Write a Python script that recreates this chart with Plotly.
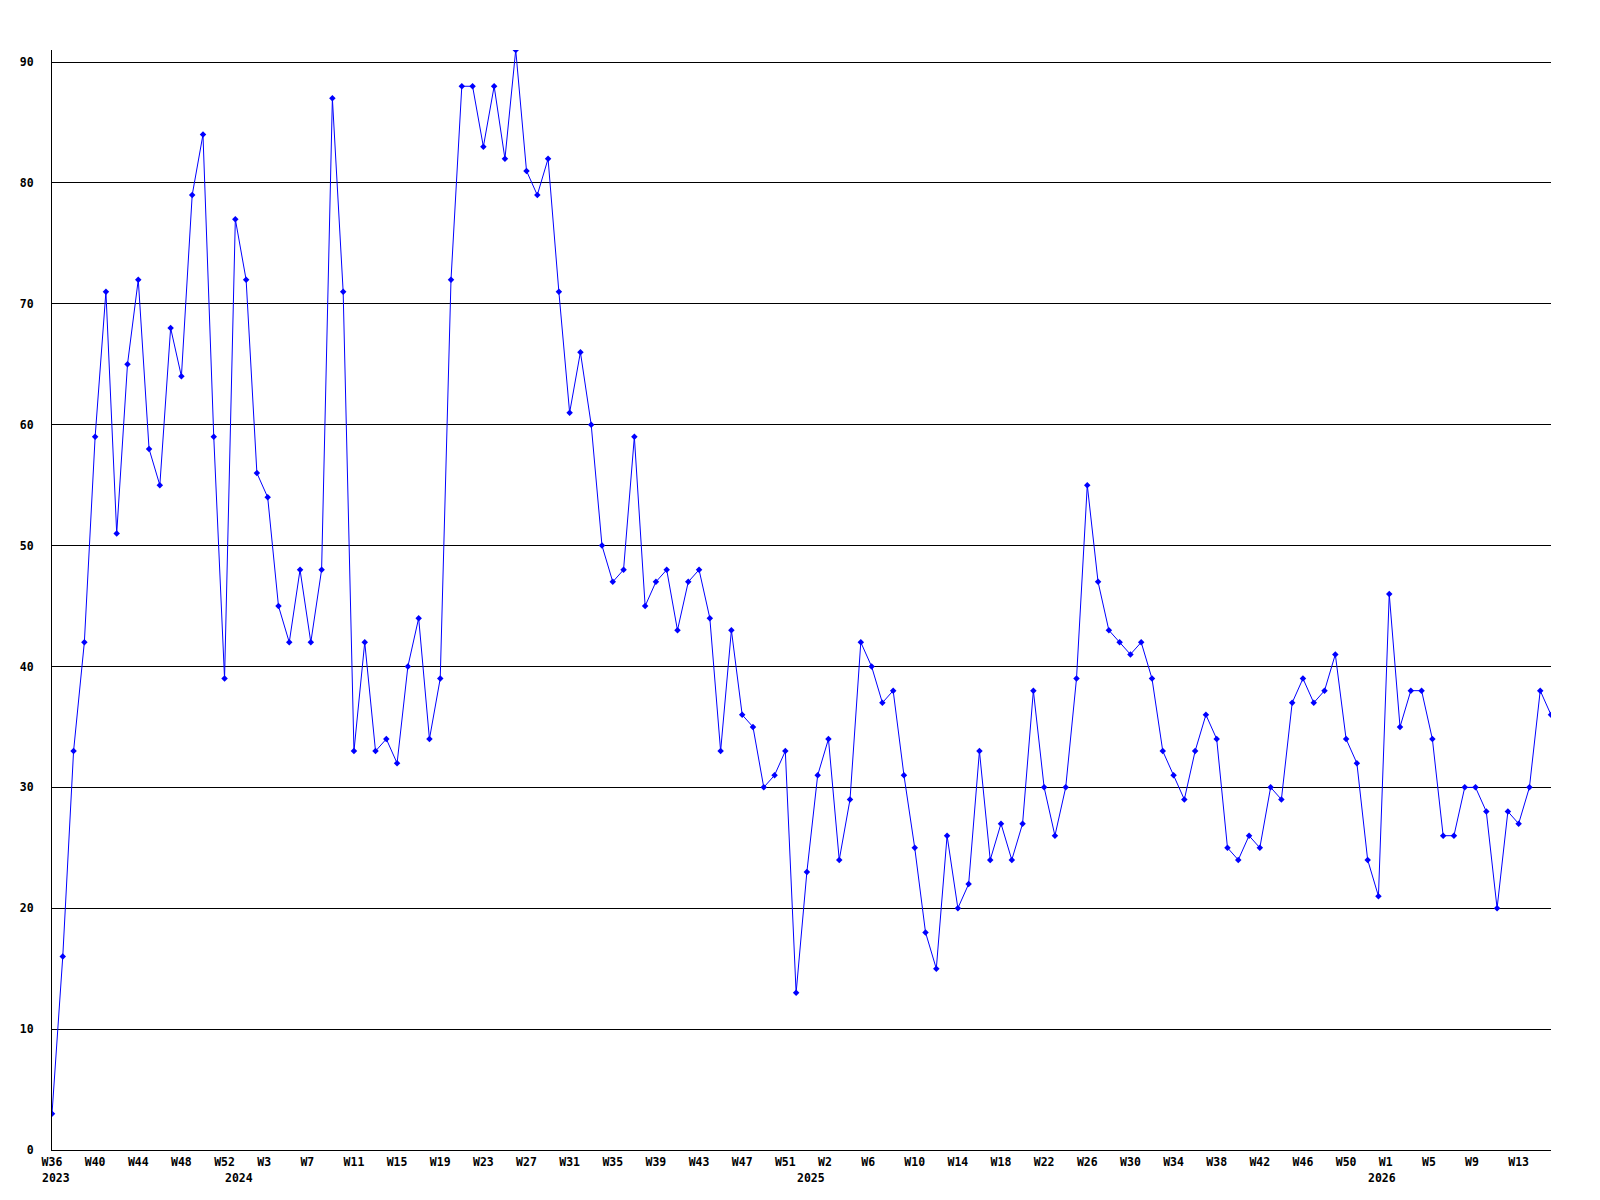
import plotly.graph_objects as go

# Weekly values, first point = W36 2023
values = [3, 16, 33, 42, 59, 71, 51, 65, 72, 58,
          55, 68, 64, 79, 84, 59, 39, 77, 72, 56,
          54, 45, 42, 48, 42, 48, 87, 71, 33, 42,
          33, 34, 32, 40, 44, 34, 39, 72, 88, 88,
          83, 88, 82, 91, 81, 79, 82, 71, 61, 66,
          60, 50, 47, 48, 59, 45, 47, 48, 43, 47,
          48, 44, 33, 43, 36, 35, 30, 31, 33, 13,
          23, 31, 34, 24, 29, 42, 40, 37, 38, 31,
          25, 18, 15, 26, 20, 22, 33, 24, 27, 24,
          27, 38, 30, 26, 30, 39, 55, 47, 43, 42,
          41, 42, 39, 33, 31, 29, 33, 36, 34, 25,
          24, 26, 25, 30, 29, 37, 39, 37, 38, 41,
          34, 32, 24, 21, 46, 35, 38, 38, 34, 26,
          26, 30, 30, 28, 20, 28, 27, 30, 38, 36]

week_tick_labels = ["W36", "W40", "W44", "W48", "W52", "W3", "W7", "W11", "W15",
                    "W19", "W23", "W27", "W31", "W35", "W39", "W43", "W47", "W51",
                    "W2", "W6", "W10", "W14", "W18", "W22", "W26", "W30", "W34",
                    "W38", "W42", "W46", "W50", "W1", "W5", "W9", "W13"]
week_tick_step = 4

year_labels = ["2023", "2024", "2025", "2026"]
year_positions = [0, 17, 70, 123]

y_ticks = [0, 10, 20, 30, 40, 50, 60, 70, 80, 90]

x = list(range(len(values)))
NB = "\u00a0"
FONT = dict(family="DejaVu Sans Mono", size=11.5, color="black", weight="bold")

tickvals_x = [i * week_tick_step for i in range(len(week_tick_labels))]
ticktext_x = [t if len(t) >= 3 else t + NB for t in week_tick_labels]
ticktext_y = [str(v).rjust(2, NB) for v in y_ticks]

fig = go.Figure()
fig.add_trace(go.Scatter(
    x=x, y=values, mode="lines+markers",
    line=dict(color="#0000ff", width=1),
    marker=dict(symbol="diamond", size=5, color="#0000ff", line=dict(width=0)),
    showlegend=False, hoverinfo="x+y",
))

for yr, pos in zip(year_labels, year_positions):
    fig.add_annotation(
        x=pos, y=0, xref="x", yref="y", text=yr, showarrow=False,
        xanchor="left", yanchor="middle", xshift=-12, yshift=-28,
        font=FONT,
    )

fig.update_layout(
    width=1600, height=1200,
    margin=dict(l=42, r=57, t=42, b=58),
    paper_bgcolor="white", plot_bgcolor="white",
    showlegend=False,
    xaxis=dict(
        range=[0, 139], showgrid=False, zeroline=False,
        showline=True, linecolor="black", linewidth=1,
        tickmode="array", tickvals=tickvals_x, ticktext=ticktext_x,
        ticks="", tickfont=FONT, ticklabelstandoff=1,
    ),
    yaxis=dict(
        range=[0, 91], showgrid=True, gridcolor="black", gridwidth=1,
        zeroline=False, showline=True, linecolor="black", linewidth=1,
        tickmode="array", tickvals=y_ticks, ticktext=ticktext_y,
        ticks="", tickfont=FONT, ticklabelstandoff=15,
    ),
)

fig.write_html("out.html")
